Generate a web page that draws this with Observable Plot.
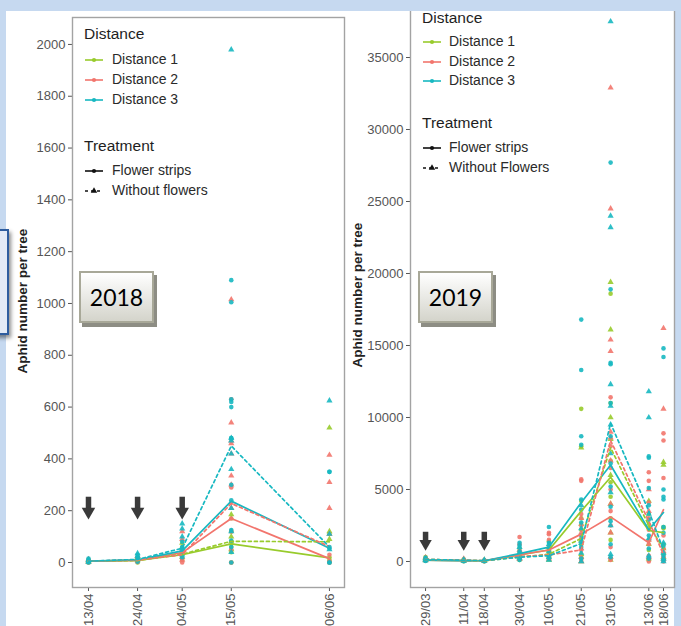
<!DOCTYPE html>
<html><head><meta charset="utf-8">
<script src="https://cdn.jsdelivr.net/npm/d3@7"></script>
<script src="https://cdn.jsdelivr.net/npm/@observablehq/plot@0.6"></script>
<style>
html,body{margin:0;padding:0;}
body{width:681px;height:626px;overflow:hidden;background:#c6d9f0;font-family:"Liberation Sans",Arial,sans-serif;}
#stage{position:relative;width:681px;height:626px;overflow:hidden;}
#white{position:absolute;left:6px;top:11px;width:668px;height:615px;background:#fff;}
#banner{position:absolute;left:0;top:0;width:681px;height:11px;background:#c6d9f0;z-index:5;}
#bluebox{position:absolute;left:-20px;top:229px;width:25px;height:102px;border:2px solid #2e5c9e;background:#e3eaf6;box-shadow:2px 3px 4px rgba(0,0,0,0.45);}
.panel{position:absolute;}
.ytitle{position:absolute;font-weight:bold;font-size:13.5px;color:#222;transform:translate(-50%,-50%) rotate(-90deg);white-space:nowrap;}
.lg{position:absolute;white-space:nowrap;transform:translateY(-50%);line-height:1.1;color:#1e1e1e;z-index:6;}
.lgt{font-size:15.5px;}
.lgi{font-size:14px;color:#2a2a2a;}
.key{position:absolute;transform:translateY(-50%);}
.year{position:absolute;width:71px;height:48px;border:2px solid #a8a898;background:linear-gradient(#ffffff,#d4d4cb);box-shadow:3px 4px 0 #8d8d84;font-family:Lato,"Open Sans",sans-serif;font-size:23px;color:#000;display:flex;align-items:center;justify-content:center;}
</style></head>
<body>
<div id="stage">
  <div id="white"></div>
  <div id="bluebox"></div>
  <div id="banner"></div>
</div>
<script>
// ---------- data ----------
const distances = ["Distance 1", "Distance 2", "Distance 3"];
const distanceColors = ["#98cb2c", "#f2756d", "#17b8c1"];
const treatments2018 = ["Flower strips", "Without flowers"];
const treatments2019 = ["Flower strips", "Without Flowers"];

const dates2018 = ["13/04", "24/04", "04/05", "15/05", "06/06"];
const dates2019 = ["29/03", "11/04", "18/04", "30/04", "10/05", "21/05", "31/05", "13/06", "18/06"];
const yTicks2018 = [0, 200, 400, 600, 800, 1000, 1200, 1400, 1600, 1800, 2000];
const yTicks2019 = [0, 5000, 10000, 15000, 20000, 25000, 30000, 35000];
const arrowDates2018 = ["13/04", "24/04", "04/05"];
const arrowDates2019 = ["29/03", "11/04", "18/04"];

// [date, distance index, treatment (F = flower strips, W = without), values]
const points2018 = [
 ["13/04",1,"F",[0,2,5,10]], ["13/04",1,"W",[3,8]], ["13/04",2,"F",[0,3,6]], ["13/04",2,"W",[4,12]], ["13/04",3,"F",[0,5,8,15]], ["13/04",3,"W",[2,10]],
 ["24/04",1,"F",[0,5,12]], ["24/04",1,"W",[8,20]], ["24/04",2,"F",[2,6,10]], ["24/04",2,"W",[15,25]], ["24/04",3,"F",[3,10,20,30]], ["24/04",3,"W",[12,25,35]],
 ["04/05",1,"F",[10,30,45]], ["04/05",1,"W",[20,60,75]], ["04/05",2,"F",[0,15,40]], ["04/05",2,"W",[10,50,90,120]], ["04/05",3,"F",[20,40,60,80]], ["04/05",3,"W",[30,55,100,130,150]],
 ["15/05",1,"F",[0,40,60,80,120]], ["15/05",1,"W",[50,80,100,170,185]], ["15/05",2,"F",[0,50,120,170,230,290,630]], ["15/05",2,"W",[210,300,335,420,460,470,540,1015]],
 ["15/05",3,"F",[0,60,85,125,240,300,480,480,600,620,630,1005,1090]], ["15/05",3,"W",[40,120,210,360,420,470,480,1980]],
 ["06/06",1,"F",[0,10,20,110]], ["06/06",1,"W",[90,120,520]], ["06/06",2,"F",[0,5,30]], ["06/06",2,"W",[110,210,310,415]], ["06/06",3,"F",[0,0,55,60,350,350]], ["06/06",3,"W",[50,110,625]]
];
const points2019 = [
 ["29/03",1,"F",[50,150,300]], ["29/03",1,"W",[100,250]], ["29/03",2,"F",[50,200]], ["29/03",2,"W",[100,280]], ["29/03",3,"F",[30,120,250]], ["29/03",3,"W",[80,200]],
 ["11/04",1,"F",[20,80,150]], ["11/04",1,"W",[50,120]], ["11/04",2,"F",[30,100]], ["11/04",2,"W",[60,180]], ["11/04",3,"F",[20,70]], ["11/04",3,"W",[40,140]],
 ["18/04",1,"F",[10,60]], ["18/04",1,"W",[40,100]], ["18/04",2,"F",[20,80]], ["18/04",2,"W",[30,90]], ["18/04",3,"F",[15,50]], ["18/04",3,"W",[35,120]],
 ["30/04",1,"F",[100,300,600,900]], ["30/04",1,"W",[200,500]], ["30/04",2,"F",[200,500,1200,1700]], ["30/04",2,"W",[150,400,800]], ["30/04",3,"F",[100,400,700,1100,1300]], ["30/04",3,"W",[250,600,1000]],
 ["10/05",1,"F",[200,600,1000,1400]], ["10/05",1,"W",[100,400,800]], ["10/05",2,"F",[300,800,1500,1900,2000]], ["10/05",2,"W",[200,500,1000]], ["10/05",3,"F",[400,900,1300,2400]], ["10/05",3,"W",[100,300,700,1200]],
 ["21/05",1,"F",[300,1200,2200,3000,4200,8000,10600]], ["21/05",1,"W",[0,500,1500,2600,7900]], ["21/05",2,"F",[100,800,1600,2500,3300,5600,5700]], ["21/05",2,"W",[0,300,900,2000,3000]],
 ["21/05",3,"F",[200,1000,1800,2700,3600,4300,8100,8700,13300,16800]], ["21/05",3,"W",[0,600,1400,2300,3900]],
 ["31/05",1,"F",[200,1500,3000,4500,5500,7000,11000,18600]], ["31/05",1,"W",[100,2000,4000,6000,8500,10000,16100,19400]],
 ["31/05",2,"F",[100,1000,2500,3500,5000,6500,8000,11400]], ["31/05",2,"W",[300,2000,4000,7000,8600,9000,14600,15400,24500,32900]],
 ["31/05",3,"F",[300,1200,2800,3800,5200,6800,8700,11000,13700,13800,18900,27700]], ["31/05",3,"W",[500,2500,4800,7500,9500,10800,12300,23200,24000,37500]],
 ["13/06",1,"F",[100,800,1500,2300,3300]], ["13/06",1,"W",[200,1200,2600,4200]], ["13/06",2,"F",[0,400,1200,2200,3000,4100,5600,6200]], ["13/06",2,"W",[300,1500,3500,5000]],
 ["13/06",3,"F",[200,900,1800,2900,3900,5100,7200,7300]], ["13/06",3,"W",[400,1600,3300,10000,11800]],
 ["18/06",1,"F",[100,500,1200,2300,2400]], ["18/06",1,"W",[300,900,6700,6900]], ["18/06",2,"F",[0,300,900,1800,5800,8400,8900]], ["18/06",2,"W",[200,700,10600,16200]],
 ["18/06",3,"F",[100,400,1100,2000,2400,4300,4500,5000,14200,14800]], ["18/06",3,"W",[0,200,600,1300]]
];

// mean lines: [distance index, treatment, values per date]
const means2018 = [
 [1,"F",[5,8,30,72,18]], [2,"F",[5,8,38,170,15]], [3,"F",[5,10,45,237,55]],
 [1,"W",[5,8,32,82,80]], [2,"W",[5,10,30,228,62]], [3,"W",[5,12,55,450,60]]
];
const means2019 = [
 [1,"F",[100,60,50,450,800,3500,5850,2150,2000]], [2,"F",[100,60,50,480,800,1900,3100,1300,3600]], [3,"F",[100,60,50,550,1000,4100,6700,2200,3400]],
 [1,"W",[150,80,50,300,500,1600,7900,2500,900]], [2,"W",[150,80,60,350,450,800,8400,2800,500]], [3,"W",[150,80,60,300,400,1250,9600,3500,800]]
];

// ---------- build ----------
function parseDate(s, year) { const [d, m] = s.split("/").map(Number); return new Date(Date.UTC(year, m - 1, d)); }
function flatPoints(list, year, tr) {
  const out = [];
  for (const [d, di, t, vals] of list) for (const v of vals)
    out.push({date: parseDate(d, year), distance: distances[di - 1], treatment: tr[t === "F" ? 0 : 1], value: v});
  return out;
}
function flatMeans(list, dates, year, tr) {
  const out = [];
  for (const [di, t, vals] of list) vals.forEach((v, i) =>
    out.push({date: parseDate(dates[i], year), distance: distances[di - 1], treatment: tr[t === "F" ? 0 : 1], value: v}));
  return out;
}

function panel(opts) {
  const pts = flatPoints(opts.points, opts.year, opts.tr);
  const means = flatMeans(opts.means, opts.dates, opts.year, opts.tr);
  const arrows = opts.arrowDates.map(d => ({date: parseDate(d, opts.year)}));
  return Plot.plot({
    width: opts.width, height: opts.height,
    marginLeft: opts.ml, marginRight: opts.mr, marginTop: opts.mt, marginBottom: 39,
    style: {background: "transparent", fontFamily: "'Liberation Sans', Arial, sans-serif", fontSize: "13px", color: "#555", overflow: "visible"},
    x: {type: "utc", domain: opts.xDomain, ticks: opts.dates.map(d => parseDate(d, opts.year)), tickFormat: d3.utcFormat("%d/%m"), tickRotate: -90, tickSize: 4, tickPadding: 2, label: null},
    y: {domain: opts.yDomain, ticks: opts.yTicks, tickFormat: d3.format("d"), tickSize: 4, tickPadding: 3, label: null},
    color: {domain: distances, range: distanceColors},
    symbol: {domain: opts.tr, range: ["circle", "triangle"]},
    marks: [
      Plot.frame({stroke: "#a3a3a3", strokeWidth: 1.4}),
      Plot.dot(pts, {x: "date", y: "value", fill: "distance", symbol: "treatment", r: 2.3, fillOpacity: 0.9}),
      Plot.line(means.filter(d => d.treatment === opts.tr[0]), {x: "date", y: "value", z: "distance", stroke: "distance", strokeWidth: 1.7}),
      Plot.line(means.filter(d => d.treatment === opts.tr[1]), {x: "date", y: "value", z: "distance", stroke: "distance", strokeWidth: 1.7, strokeDasharray: "3,3"}),
      Plot.ruleX(arrows, {x: "date", y1: opts.arrow[0], y2: opts.arrow[1], stroke: "#3a3a3a", strokeWidth: 5.5}),
      Plot.dot(arrows, {x: "date", y: opts.arrow[2], symbol: "triangle", rotate: 180, r: opts.arrow[3], fill: "#3a3a3a"})
    ]
  });
}

const stage = document.getElementById("stage");
const banner = document.getElementById("banner");

const left = panel({
  year: 2018, width: 345, height: 626, ml: 72, mr: 1, mt: 17,
  xDomain: [new Date(Date.UTC(2018, 3, 9, 10)), new Date(Date.UTC(2018, 5, 9, 9))],
  yDomain: [-96.5, 2104], yTicks: yTicks2018, dates: dates2018, tr: treatments2018,
  points: points2018, means: means2018, arrowDates: arrowDates2018, arrow: [252, 204, 196, 5]
});
left.classList.add("panel"); left.style.left = "0px"; left.style.top = "0px";
stage.insertBefore(left, banner);

const right = panel({
  year: 2019, width: 336, height: 634, ml: 65, mr: 7, mt: 0,
  xDomain: [new Date(Date.UTC(2019, 2, 23, 21)), new Date(Date.UTC(2019, 5, 21, 18))],
  yDomain: [-1806, 39514], yTicks: yTicks2019, dates: dates2019, tr: treatments2019,
  points: points2019, means: means2019, arrowDates: arrowDates2019, arrow: [2030, 1420, 1250, 4.6]
});
right.classList.add("panel"); right.style.left = "345px"; right.style.top = "-8px";
stage.insertBefore(right, banner);

// axis titles
function addDiv(cls, x, y, text, extra) {
  const el = document.createElement("div");
  el.className = cls; el.style.left = x + "px"; el.style.top = y + "px"; el.textContent = text;
  if (extra) Object.assign(el.style, extra);
  stage.appendChild(el); return el;
}
addDiv("ytitle", 22, 301, "Aphid number per tree");
addDiv("ytitle", 357, 295, "Aphid number per tree");

// legends
function keySvg(x, y, color, dashed, symbol) {
  const ns = "http://www.w3.org/2000/svg";
  const svg = document.createElementNS(ns, "svg");
  svg.setAttribute("width", 18); svg.setAttribute("height", 10);
  svg.setAttribute("class", "key");
  svg.style.left = x + "px"; svg.style.top = y + "px";
  const line = document.createElementNS(ns, "line");
  line.setAttribute("x1", 0); line.setAttribute("x2", 18); line.setAttribute("y1", 5); line.setAttribute("y2", 5);
  line.setAttribute("stroke", color); line.setAttribute("stroke-width", 1.6);
  if (dashed) line.setAttribute("stroke-dasharray", "3,3");
  svg.appendChild(line);
  const sym = document.createElementNS(ns, "path");
  sym.setAttribute("d", d3.symbol(symbol === "triangle" ? d3.symbolTriangle : d3.symbolCircle, symbol === "triangle" ? 18 : 14)());
  sym.setAttribute("transform", "translate(9,5)");
  sym.setAttribute("fill", color);
  svg.appendChild(sym);
  stage.appendChild(svg);
}
function legend(L) {
  addDiv("lg lgt", L.x, L.t1, "Distance");
  distances.forEach((d, i) => {
    keySvg(L.x + 1, L.d[i], distanceColors[i], false, "circle");
    addDiv("lg lgi", L.tx, L.d[i], d);
  });
  addDiv("lg lgt", L.x, L.t2, "Treatment");
  L.tr.forEach((t, i) => {
    keySvg(L.x + 1, L.r[i], "#111", i === 1, i === 1 ? "triangle" : "circle");
    addDiv("lg lgi", L.tx, L.r[i], t);
  });
}
legend({x: 84, tx: 112, t1: 34, d: [60, 80, 100], t2: 146, r: [171, 191], tr: treatments2018});
legend({x: 422, tx: 449, t1: 18, d: [42, 62, 81], t2: 123, r: [148, 168], tr: treatments2019});

// year labels
addDiv("year", 79, 271, "2018");
addDiv("year", 418, 271, "2019");
</script>
</body></html>
